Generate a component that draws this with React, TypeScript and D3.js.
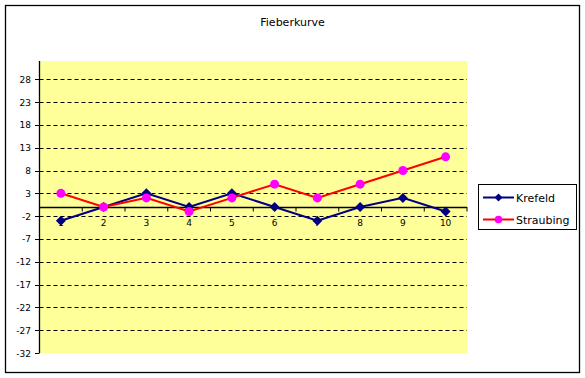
import React from "react";
import * as d3 from "d3";

const categories = ["1", "2", "3", "4", "5", "6", "7", "8", "9", "10"];
const krefeld = [-3, 0, 3, 0, 3, 0, -3, 0, 2, -1];
const straubing = [3, 0, 2, -1, 2, 5, 2, 5, 8, 11];
const yTicks = [-32, -27, -22, -17, -12, -7, -2, 3, 8, 13, 18, 23, 28];
const title = "Fieberkurve";
const seriesNames = ["Krefeld", "Straubing"];

const W = 585, H = 378;
const plot = { left: 39.5, right: 467, top: 61, bottom: 353 };
const font = "'DejaVu Sans', Verdana, sans-serif";

export default function App() {
  const x = d3.scaleBand<string>().domain(categories).range([plot.left, plot.right]);
  const y = d3.scaleLinear().domain([-32, 32]).range([plot.bottom, plot.top]);
  const cx = (c: string) => (x(c) as number) + x.bandwidth() / 2;
  const line = d3.line<number>().x((_, i) => cx(categories[i])).y((d) => y(d));
  const y0 = y(0);
  const diamond = (px: number, py: number, r: number) =>
    `M${px},${py - r}L${px + r},${py}L${px},${py + r}L${px - r},${py}Z`;

  return (
    <svg width={W} height={H} style={{ position: "absolute", left: 0, top: 0 }} fontFamily={font}>
      <rect x={0} y={0} width={W} height={H} fill="#fff" />
      <rect x={5.5} y={5.5} width={574} height={367} fill="#fff" stroke="#000" strokeWidth={1.3} />
      <text x={292.5} y={26} textAnchor="middle" fontSize={11} fill="#000">{title}</text>
      <rect x={plot.left} y={plot.top} width={plot.right - plot.left} height={plot.bottom - plot.top} fill="#FFFF99" />
      {yTicks.map((t) => (
        <g key={t}>
          {t !== -32 && (
            <line x1={plot.left} x2={plot.right} y1={Math.round(y(t)) + 0.5} y2={Math.round(y(t)) + 0.5}
              stroke="#000" strokeDasharray="4,3" strokeWidth={1} />
          )}
          <line x1={plot.left - 4.5} x2={plot.left} y1={Math.round(y(t)) + 0.5} y2={Math.round(y(t)) + 0.5} stroke="#000" />
          <text x={31} y={y(t) + 3.5} textAnchor="end" fontSize={9} fill="#000">{t}</text>
        </g>
      ))}
      <line x1={plot.left} x2={plot.left} y1={plot.top} y2={plot.bottom} stroke="#000" strokeWidth={1.3} />
      <line x1={plot.left} x2={plot.right} y1={Math.round(y0) + 0.5} y2={Math.round(y0) + 0.5} stroke="#000" strokeWidth={1.3} />
      {categories.map((c, i) => (
        <line key={"t" + c} x1={(x(c) as number) + x.bandwidth()} x2={(x(c) as number) + x.bandwidth()}
          y1={y0} y2={y0 + 4.5} stroke="#000" />
      ))}
      {categories.map((c) => (
        <text key={"l" + c} x={cx(c)} y={y0 + 19} textAnchor="middle" fontSize={9} fill="#000">{c}</text>
      ))}
      <path d={line(krefeld) || ""} fill="none" stroke="#000080" strokeWidth={2} />
      {krefeld.map((v, i) => (
        <path key={"k" + i} d={diamond(cx(categories[i]), y(v), 5)} fill="#000080" />
      ))}
      <path d={line(straubing) || ""} fill="none" stroke="#FF0000" strokeWidth={2} />
      {straubing.map((v, i) => (
        <circle key={"s" + i} cx={cx(categories[i])} cy={y(v)} r={4.5} fill="#FF00FF" />
      ))}
      <rect x={478.5} y={184.5} width={98} height={45} fill="#fff" stroke="#000" strokeWidth={1} />
      <line x1={483} x2={514} y1={197.5} y2={197.5} stroke="#000080" strokeWidth={2} />
      <path d={diamond(498.5, 197.5, 4)} fill="#000080" />
      <text x={516} y={201.5} fontSize={11} fill="#000">{seriesNames[0]}</text>
      <line x1={483} x2={514} y1={219.5} y2={219.5} stroke="#FF0000" strokeWidth={2} />
      <circle cx={498.5} cy={219.5} r={3.8} fill="#FF00FF" />
      <text x={516} y={223.5} fontSize={11} fill="#000">{seriesNames[1]}</text>
    </svg>
  );
}
